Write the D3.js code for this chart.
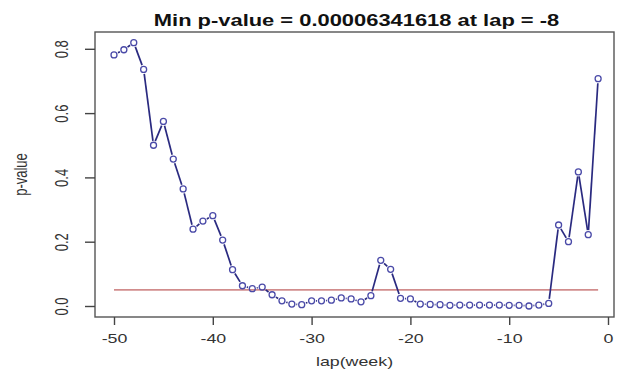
<!DOCTYPE html>
<html><head><meta charset="utf-8">
<script src="https://cdn.jsdelivr.net/npm/d3@7"></script>
<style>body{margin:0;background:#fff;} svg{display:block;font-family:"Liberation Sans",Arial,sans-serif;}</style>
</head><body>
<svg id="c" width="623" height="378"></svg>
<script>
const laps = d3.range(-50, 0);
const pvalues = [0.781,0.797,0.819,0.736,0.500,0.574,0.457,0.364,0.239,0.264,
  0.281,0.205,0.113,0.063,0.054,0.059,0.035,0.016,0.006,0.004,
  0.016,0.016,0.018,0.025,0.022,0.013,0.032,0.142,0.114,0.024,
  0.022,0.006,0.005,0.004,0.002,0.003,0.003,0.003,0.003,0.003,
  0.002,0.002,0.00006341618,0.003,0.008,0.252,0.200,0.417,0.222,0.707];
const xTicks = [-50,-40,-30,-20,-10,0];
const yTicks = [0,0.2,0.4,0.6,0.8];
const threshold = 0.05;
const titleText = "Min p-value = 0.00006341618 at lap = -8";

const SX = 1.37; // horizontal stretch of the original picture
const svg = d3.select("#c");
const L=95, R=614, T=32, B=317;
const x = d3.scaleLinear().domain([-50 - (114-L)/9.88, -50 + (R-114)/9.88]).range([L, R]);
const y = d3.scaleLinear().domain([0 - (B-306)/321.5, (306-T)/321.5]).range([B, T]);

svg.append("rect").attr("x",L).attr("y",T).attr("width",R-L).attr("height",B-T)
  .attr("fill","none").attr("stroke","#555").attr("stroke-width",1.4);

const xa = svg.append("g").attr("transform",`translate(0,${B})`)
  .call(d3.axisBottom(x).tickValues(xTicks).tickSize(8).tickFormat(d => String(d)));
xa.select(".domain").remove();
xa.selectAll("line").attr("stroke","#444").attr("stroke-width",1.4);
xa.selectAll("text").attr("font-size",13).attr("fill","#333").attr("y",null).attr("dy",null)
  .attr("transform",`translate(0,26) scale(${SX},1)`)
  .style("font-family","Liberation Sans, Arial, sans-serif");

const ya = svg.append("g").attr("transform",`translate(${L},0)`)
  .call(d3.axisLeft(y).tickValues(yTicks).tickSize(10).tickFormat(d => d.toFixed(1)));
ya.select(".domain").remove();
ya.selectAll("line").attr("stroke","#444").attr("stroke-width",1.4);
ya.selectAll("text").attr("font-size",13).attr("fill","#333")
  .attr("text-anchor","middle").attr("x",0).attr("dy",null)
  .attr("transform",`translate(-33,0) scale(${SX},1) rotate(-90)`).attr("dy","0.35em")
  .style("font-family","Liberation Sans, Arial, sans-serif");

// threshold line
svg.append("line").attr("x1",x(-50)).attr("x2",x(-1)).attr("y1",y(threshold)).attr("y2",y(threshold))
  .attr("stroke","#b03838").attr("stroke-width",1);

// type="b": segments with gaps
const gap = 4.5;
const pts = laps.map((l,i)=>[x(l), y(pvalues[i])]);
const segs = svg.append("g");
for (let i=0;i<pts.length-1;i++){
  const [x1,y1]=pts[i],[x2,y2]=pts[i+1];
  const dx=x2-x1, dy=y2-y1, len=Math.hypot(dx,dy);
  if (len <= 2*gap) continue;
  const ux=dx/len, uy=dy/len;
  segs.append("line").attr("x1",x1+ux*gap).attr("y1",y1+uy*gap)
    .attr("x2",x2-ux*gap).attr("y2",y2-uy*gap)
    .attr("stroke","#2a2a80").attr("stroke-width",1.7);
}
svg.append("g").selectAll("circle").data(laps).join("circle")
  .attr("cx",d=>x(d)).attr("cy",(d,i)=>y(pvalues[i])).attr("r",3)
  .attr("fill","none").attr("stroke","#4a4aa8").attr("stroke-width",1.3);

svg.append("text").attr("transform",`translate(${(L+R)/2+2},26) scale(${SX},1)`).attr("text-anchor","middle")
  .attr("font-size",16).attr("font-weight","bold").attr("fill","#111").text(titleText);
svg.append("text").attr("transform",`translate(${(L+R)/2},366) scale(${SX},1)`).attr("text-anchor","middle")
  .attr("font-size",13).attr("fill","#333").text("lap(week)");
svg.append("text").attr("transform",`translate(21,${(T+B)/2}) scale(${SX},1) rotate(-90)`).attr("text-anchor","middle")
  .attr("dy","0.35em").attr("font-size",13).attr("fill","#333").text("p-value");
</script>
</body></html>
